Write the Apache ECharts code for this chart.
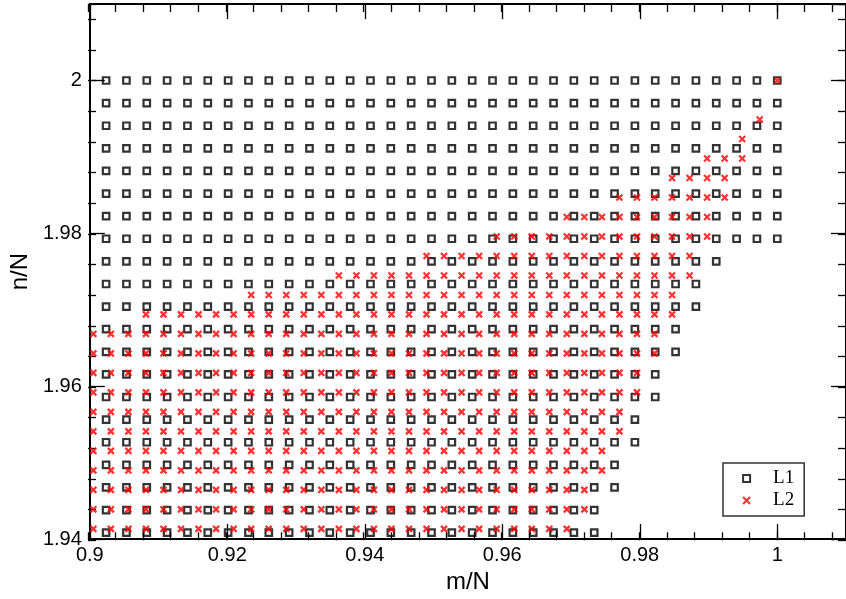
<!DOCTYPE html>
<html>
<head>
<meta charset="utf-8">
<script src="https://cdn.jsdelivr.net/npm/echarts@6/dist/echarts.min.js"></script>
<style>
  html, body { margin: 0; padding: 0; background: #fff; }
  #chart { width: 846px; height: 599px; }
</style>
</head>
<body>
<div id="chart"></div>
<script>
// Lattice sizes used to normalise the occupation numbers m and n
const N1 = 338;
const N2 = 392;

// L1: each row n and the occupied range of m in that row
const l1N     = [676, 675, 674, 673, 672, 671, 670, 669, 668, 667, 666, 665, 664, 663, 662, 661, 660, 659, 658, 657, 656];
const l1MFrom = [305, 305, 305, 305, 305, 305, 305, 305, 305, 305, 305, 305, 305, 305, 305, 305, 305, 305, 305, 305, 305];
const l1MTo   = [338, 338, 338, 338, 338, 338, 338, 338, 335, 334, 334, 333, 333, 332, 332, 331, 331, 330, 330, 329, 329];

// L2: each row n and the occupied range of m in that row
const l2N     = [784, 782, 781, 780, 779, 778, 777, 776, 775, 774, 773, 772, 771, 770, 769, 768, 767, 766, 765, 764, 763, 762, 761];
const l2MFrom = [392, 391, 390, 388, 386, 383, 380, 376, 372, 367, 362, 356, 353, 353, 353, 353, 353, 353, 353, 353, 353, 353, 353];
const l2MTo   = [392, 391, 390, 390, 389, 389, 388, 388, 387, 387, 386, 386, 385, 385, 384, 384, 383, 383, 382, 382, 381, 381, 380];

// Labelled ticks
const xTickLabels = [0.9, 0.92, 0.94, 0.96, 0.98, 1];
const yTickLabels = [1.94, 1.96, 1.98, 2];

// Expand the per-row ranges into (m/N, n/N) points
function latticePoints(ns, from, to, N) {
  const pts = [];
  for (let i = 0; i < ns.length; i++) {
    for (let m = from[i]; m <= to[i]; m++) {
      pts.push([m / N, ns[i] / N]);
    }
  }
  return pts;
}

const l1Points = latticePoints(l1N, l1MFrom, l1MTo, N1);
const l2Points = latticePoints(l2N, l2MFrom, l2MTo, N2);

const X_MIN = 0.9, X_MAX = 1.01, Y_MIN = 1.94, Y_MAX = 2.01;
const SANS = 'Liberation Sans, Arial, sans-serif';
const SERIF = 'Liberation Serif, Times New Roman, serif';
const CROSS = 'path://M0,0L10,10M10,0L0,10';

function labelIn(list) {
  return function (v) {
    for (const t of list) {
      if (Math.abs(v - t) < 1e-9) return String(t);
    }
    return '';
  };
}

const gridBox = { left: 88, right: -7.6, top: 4.1, bottom: 58.7 };

function majorAxis(pos, gridIndex, min, max, withLabels, labels) {
  return {
    type: 'value', gridIndex, position: pos, min, max, interval: 0.02,
    axisLine: { show: true, onZero: false, lineStyle: { color: '#000', width: 2 } },
    axisTick: { show: true, inside: true, length: 15, lineStyle: { color: '#000', width: 1.3 } },
    axisLabel: {
      show: withLabels, formatter: labelIn(labels || []), color: '#000',
      fontFamily: SANS, fontSize: 20, margin: pos === 'bottom' ? 6 : 8,
      showMinLabel: true, showMaxLabel: false
    },
    splitLine: { show: false }
  };
}

function minorAxis(pos, gridIndex, min, max) {
  return {
    type: 'value', gridIndex, position: pos, min, max, interval: 0.004,
    axisLine: { show: false, onZero: false },
    axisTick: { show: true, inside: true, length: 8, lineStyle: { color: '#000', width: 1.3 } },
    axisLabel: { show: false },
    splitLine: { show: false }
  };
}

const xBottom = majorAxis('bottom', 0, X_MIN, X_MAX, true, xTickLabels);
xBottom.name = 'm/N';
xBottom.nameLocation = 'middle';
xBottom.nameGap = 31;
xBottom.nameTextStyle = { fontFamily: SANS, fontSize: 24, color: '#000' };

const yLeft = majorAxis('left', 0, Y_MIN, Y_MAX, true, yTickLabels);
yLeft.name = 'n/N';
yLeft.nameLocation = 'middle';
yLeft.nameGap = 51;
yLeft.nameTextStyle = { fontFamily: SANS, fontSize: 24, color: '#000' };

const option = {
  animation: false,
  backgroundColor: '#fff',
  grid: [
    Object.assign({}, gridBox),
    Object.assign({}, gridBox)
  ],
  xAxis: [
    xBottom,
    majorAxis('top', 0, X_MIN, X_MAX, false),
    minorAxis('bottom', 1, X_MIN, X_MAX),
    minorAxis('top', 1, X_MIN, X_MAX)
  ],
  yAxis: [
    yLeft,
    majorAxis('right', 0, Y_MIN, Y_MAX, false),
    minorAxis('left', 1, Y_MIN, Y_MAX),
    minorAxis('right', 1, Y_MIN, Y_MAX)
  ],
  legend: {
    orient: 'vertical', left: 723, top: 463,
    padding: [5, 10, 5, 19], itemGap: 1,
    itemWidth: 7, itemHeight: 7,
    backgroundColor: '#fff', borderColor: '#333', borderWidth: 1.5,
    selectedMode: false,
    textStyle: { fontFamily: SERIF, fontSize: 19, color: '#000', lineHeight: 21, padding: [0, 0, 0, 18] },
    data: [
      { name: 'L1', icon: 'rect', itemStyle: { color: 'transparent', borderColor: '#000', borderWidth: 2 } },
      { name: 'L2', icon: CROSS, itemStyle: { color: 'transparent', borderColor: '#ff0000', borderWidth: 2.2 } }
    ]
  },
  series: [
    {
      name: 'L1', type: 'scatter', xAxisIndex: 0, yAxisIndex: 0,
      data: l1Points, symbol: 'rect', symbolSize: 6.5,
      itemStyle: { color: 'transparent', borderColor: '#000', borderWidth: 2.2 },
      silent: true, z: 2
    },
    {
      name: 'L2', type: 'scatter', xAxisIndex: 0, yAxisIndex: 0,
      data: l2Points, symbol: CROSS, symbolSize: 6,
      itemStyle: { color: 'transparent', borderColor: '#ff0000', borderWidth: 2.3 },
      silent: true, z: 3
    }
  ]
};

const chart = echarts.init(document.getElementById('chart'), null, { renderer: 'canvas' });
chart.setOption(option);
</script>
</body>
</html>
